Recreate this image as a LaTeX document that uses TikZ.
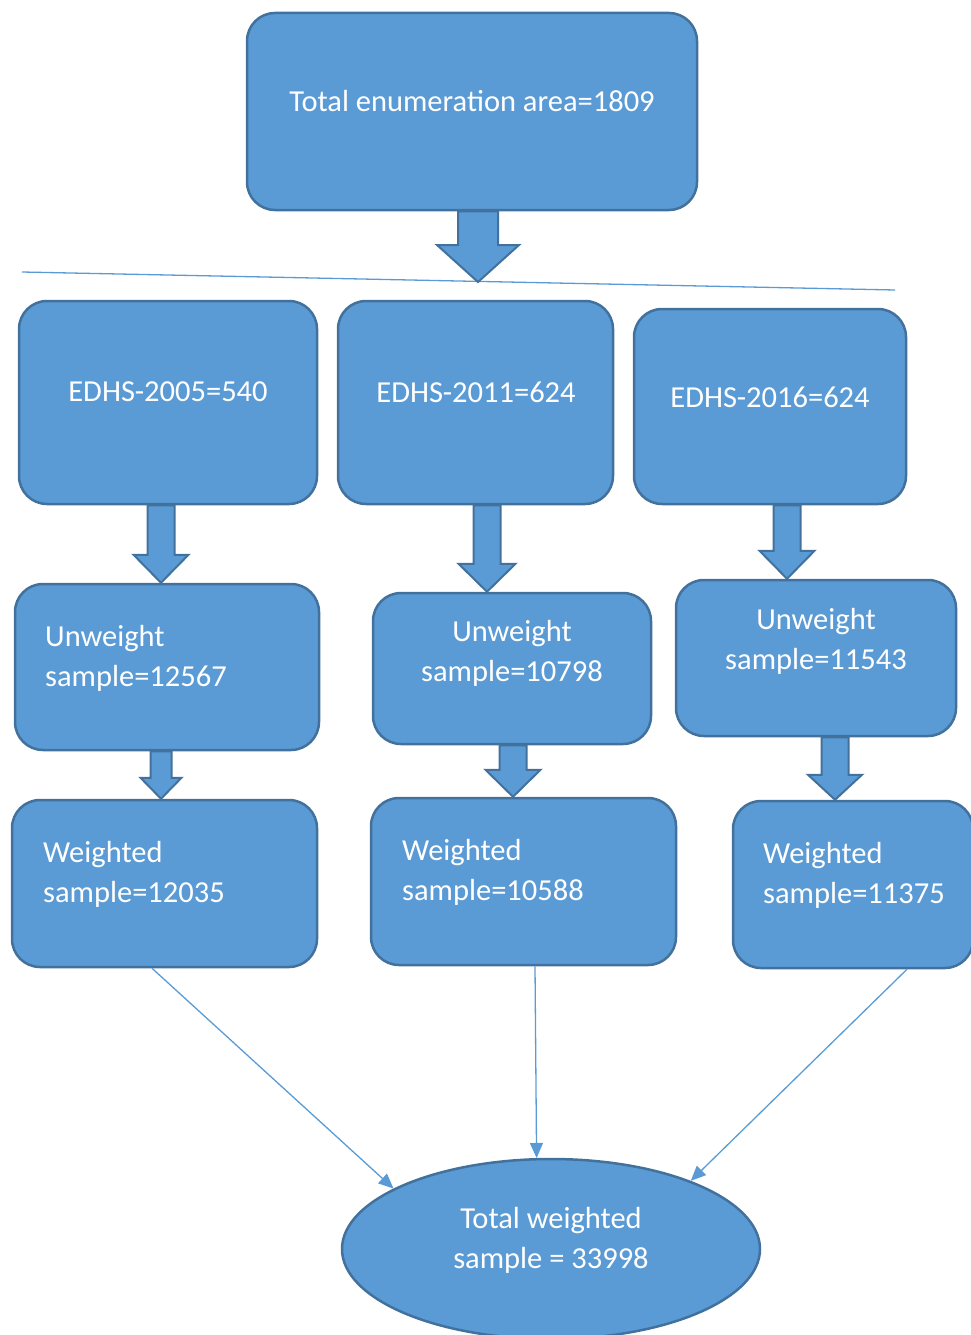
\documentclass[tikz,border=0pt]{standalone}
\usepackage{fontspec}
\setmainfont{Carlito}
\usetikzlibrary{shapes,calc,arrows.meta}
\definecolor{boxfill}{HTML}{5B9BD5}
\definecolor{boxline}{HTML}{41719C}

% block arrow: x, from, to, half shaft, half head, head length
\newcommand{\blockarrow}[6]{%
  \draw[barrow] let \p1=(#2), \p2=(#3) in
    (#1pt-#4pt,\y1) -- (#1pt-#4pt,\y2+#6pt) -- (#1pt-#5pt,\y2+#6pt) -- (#1pt,\y2)
    -- (#1pt+#5pt,\y2+#6pt) -- (#1pt+#4pt,\y2+#6pt) -- (#1pt+#4pt,\y1) -- cycle;}

\begin{document}
\begin{tikzpicture}[x=1pt,y=-1pt]
\tikzstyle{box}=[rectangle, rounded corners=28pt, draw=boxline, fill=boxfill, line width=2.5pt]
\tikzstyle{oval}=[ellipse, draw=boxline, fill=boxfill, line width=2.5pt]
\tikzstyle{txt}=[text=white, font=\fontsize{30.5}{40}\selectfont, inner sep=0pt]
\tikzstyle{barrow}=[draw=boxline, fill=boxfill, line width=2pt, line join=miter]
\tikzstyle{thin}=[draw=boxfill, line width=1.3pt, -{Triangle[length=15pt,width=13pt]}]
\useasboundingbox (0,0) rectangle (970,1335);

% top
\node[box, minimum width=450, minimum height=197] (top) at (472,111.5) {};
\node[txt] (topt) at (472,101) {Total enumeration area=1809};
\coordinate (lnL) at (22,272);
\coordinate (lnR) at (895,290);
\coordinate (tip) at (478,282);
\draw[boxfill, line width=1.3pt] (lnL) -- (lnR);
\blockarrow{478}{top.south}{tip}{20}{41}{37}

% surveys
\node[box, minimum width=298, minimum height=203] (e05) at (168,402.5) {};
\node[box, minimum width=275, minimum height=203] (e11) at (475.5,402.5) {};
\node[box, minimum width=272, minimum height=195] (e16) at (770,406.5) {};
\node[txt] (e05t) at (168,392) {EDHS-2005=540};
\node[txt] (e11t) at (476,392) {EDHS-2011=624};
\node[txt] (e16t) at (770,397) {EDHS-2016=624};

% unweighted
\node[box, minimum width=304, minimum height=166] (u05) at (167,667) {};
\node[box, minimum width=278, minimum height=151] (u11) at (512,668.5) {};
\node[box, minimum width=280, minimum height=156] (u16) at (816,658) {};
\node[txt, anchor=west, align=left] (u05t) at (45,658) {Unweight\\sample=12567};
\node[txt, align=center] (u11t) at (512,653) {Unweight\\sample=10798};
\node[txt, align=center] (u16t) at (816,641) {Unweight\\sample=11543};

% weighted
\node[box, minimum width=305, minimum height=167] (w05) at (164.5,883.5) {};
\node[box, minimum width=305, minimum height=167] (w11) at (523.5,881.5) {};
\node[box, minimum width=240, minimum height=167] (w16) at (853,884.5) {};
\node[txt, anchor=west, align=left] (w05t) at (43,874) {Weighted\\sample=12035};
\node[txt, anchor=west, align=left] (w11t) at (402,872) {Weighted\\sample=10588};
\node[txt, anchor=west, align=left] (w16t) at (763,875) {Weighted\\sample=11375};

\blockarrow{161}{e05.south}{u05.north}{13.5}{27.5}{28}
\blockarrow{487}{e11.south}{u11.north}{13.5}{28.5}{28}
\blockarrow{787}{e16.south}{u16.north}{13.5}{27.5}{28}
\blockarrow{161}{u05.south}{w05.north}{10.5}{20.5}{21}
\blockarrow{513}{u11.south}{w11.north}{13.5}{27.5}{27}
\blockarrow{835}{u16.south}{w16.north}{13.5}{27}{25}

% total
\node[oval, minimum width=418, minimum height=180] (tot) at (551,1249) {};
\node[txt, align=center] (tott) at (551,1240) {Total weighted\\sample = 33998};

\draw[thin] ([xshift=-12.5pt]w05.south) -- (tot.159);
\draw[thin] ([xshift=11.5pt]w11.south) -- (tot.99);
\draw[thin] ([xshift=54pt]w16.south) -- (tot.26);
\end{tikzpicture}
\end{document}
